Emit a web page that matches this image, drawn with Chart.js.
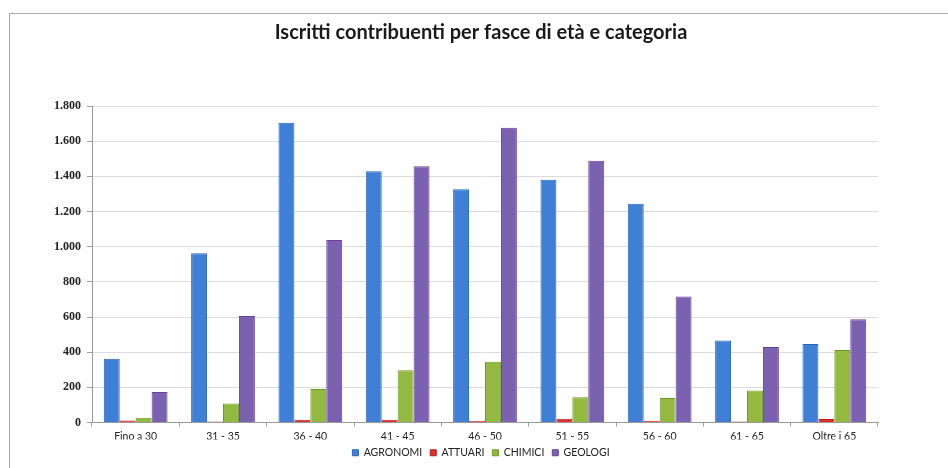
<!DOCTYPE html>
<html>
<head>
<meta charset="utf-8">
<script src="https://cdn.jsdelivr.net/npm/chart.js@4.4.1/dist/chart.umd.min.js"></script>
<style>
    html, body { margin: 0; padding: 0; background: #fff; }
    #chart { display: block; }
</style>
</head>
<body>
<canvas id="chart" width="948" height="468"></canvas>
<script>
const ageBands = ['Fino a 30', '31 - 35', '36 - 40', '41 - 45', '46 - 50', '51 - 55', '56 - 60', '61 - 65', 'Oltre i 65'];
const agronomi = [362, 962, 1705, 1429, 1327, 1381, 1244, 467, 447];
const attuari = [11, 6, 15, 16, 8, 21, 10, 5, 20];
const chimici = [27, 108, 190, 297, 345, 143, 139, 182, 413];
const geologi = [173, 606, 1038, 1457, 1676, 1488, 716, 430, 587];
const yTicks = [0, 200, 400, 600, 800, 1000, 1200, 1400, 1600, 1800];

// 1800 -> "1.800"
const fmt = v => String(v).replace(/\B(?=(\d{3})+(?!\d))/g, '.');

const frame = {
    id: 'frame',
    beforeDraw(chart) {
        const { ctx } = chart;
        ctx.save();
        ctx.fillStyle = '#fff';
        ctx.fillRect(0, 0, chart.width, chart.height);
        ctx.strokeStyle = '#a9a9b4';
        ctx.lineWidth = 1;
        ctx.strokeRect(9.5, 13.5, chart.width, chart.height);
        ctx.restore();
    }
};

const data = {
    labels: ageBands,
    datasets: [
        { label: 'AGRONOMI', data: agronomi, backgroundColor: '#3f80d6', borderColor: '#2a66bd' },
        { label: 'ATTUARI', data: attuari, backgroundColor: '#e0302e', borderColor: '#b81f1f' },
        { label: 'CHIMICI', data: chimici, backgroundColor: '#93b940', borderColor: '#6e9a26' },
        { label: 'GEOLOGI', data: geologi, backgroundColor: '#7b62b0', borderColor: '#6a3f9e' }
    ].map(ds => ({ ...ds, borderWidth: 1, categoryPercentage: 0.73, barPercentage: 1 }))
};

const config = {
    type: 'bar',
    data,
    options: {
        responsive: false,
        animation: false,
        layout: { padding: { left: 14, right: 0, top: 0, bottom: 0 } },
        scales: {
            x: {
                offset: true,
                grid: { offset: true, drawOnChartArea: false, tickLength: 4, tickColor: '#a0a0a0' },
                border: { color: '#9a9a9a' },
                ticks: { color: '#222', padding: 4, font: { family: 'Lato', size: 10.5 } },
                afterFit(scale) { scale.height = 17; }
            },
            y: {
                min: 0,
                max: 1800,
                afterBuildTicks(scale) { scale.ticks = yTicks.map(v => ({ value: v })); },
                grid: { color: '#dcdcdc', tickLength: 5, tickColor: '#a0a0a0' },
                border: { color: '#9a9a9a' },
                ticks: {
                    color: '#222',
                    padding: 6,
                    font: { family: 'Liberation Serif', size: 12, weight: 'bold' },
                    callback: v => fmt(v)
                },
                afterFit(scale) { scale.width = 78; }
            },
            // empty right-hand axis, keeps the plot clear of the frame edge
            pad: {
                position: 'right',
                display: true,
                ticks: { display: false },
                grid: { display: false },
                border: { display: false },
                afterFit(scale) { scale.width = 70; }
            }
        },
        plugins: {
            title: {
                display: true,
                text: 'Iscritti contribuenti per fasce di età e categoria',
                color: '#1a1a1a',
                font: { family: 'Lato', size: 20, weight: 'bold' },
                padding: { top: 21, bottom: 61 }
            },
            legend: {
                position: 'bottom',
                labels: {
                    color: '#222',
                    boxWidth: 6,
                    boxHeight: 6,
                    padding: 8,
                    font: { family: 'Lato', size: 10.5 }
                }
            },
            tooltip: { enabled: false }
        }
    },
    plugins: [frame]
};

const myChart = new Chart(document.getElementById('chart'), config);
</script>
</body>
</html>
